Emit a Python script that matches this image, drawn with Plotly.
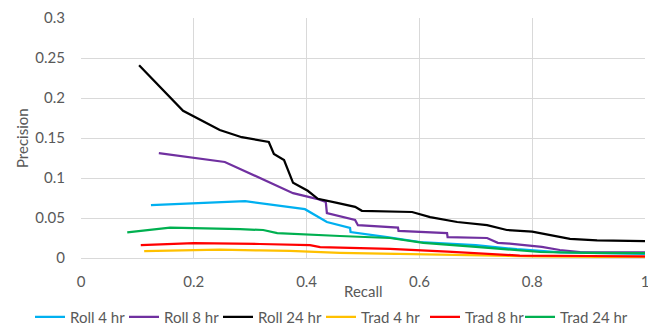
import plotly.graph_objects as go

roll4_x = [0.124, 0.291, 0.397, 0.436, 0.477, 0.478, 0.543, 0.601, 0.70, 0.773, 0.85, 0.92, 1.0]
roll4_y = [0.066, 0.071, 0.061, 0.045, 0.0375, 0.0325, 0.026, 0.020, 0.016, 0.011, 0.007, 0.006, 0.005]

roll8_x = [0.138, 0.255, 0.376, 0.418, 0.434, 0.436, 0.486, 0.491, 0.562, 0.563, 0.649, 0.650, 0.72, 0.739, 0.76, 0.817, 0.849, 0.885, 1.0]
roll8_y = [0.131, 0.120, 0.081, 0.074, 0.070, 0.056, 0.0475, 0.041, 0.038, 0.034, 0.031, 0.026, 0.025, 0.019, 0.018, 0.014, 0.010, 0.0075, 0.007]

roll24_x = [0.103, 0.181, 0.246, 0.285, 0.333, 0.342, 0.360, 0.376, 0.402, 0.420, 0.454, 0.486, 0.498, 0.548, 0.587, 0.619, 0.667, 0.720, 0.755, 0.800, 0.867, 0.915, 1.0]
roll24_y = [0.241, 0.184, 0.160, 0.151, 0.145, 0.130, 0.1225, 0.094, 0.084, 0.074, 0.069, 0.064, 0.059, 0.058, 0.0575, 0.051, 0.045, 0.041, 0.035, 0.033, 0.024, 0.022, 0.021]

trad4_x = [0.112, 0.200, 0.246, 0.317, 0.370, 0.459, 0.548, 0.65, 0.80, 1.0]
trad4_y = [0.0085, 0.010, 0.0105, 0.0095, 0.009, 0.0065, 0.0055, 0.004, 0.002, 0.001]

trad8_x = [0.106, 0.200, 0.317, 0.406, 0.424, 0.548, 0.65, 0.778, 0.90, 1.0]
trad8_y = [0.016, 0.0185, 0.0175, 0.016, 0.0135, 0.0115, 0.008, 0.003, 0.0025, 0.002]

trad24_x = [0.082, 0.158, 0.282, 0.323, 0.348, 0.400, 0.459, 0.548, 0.607, 0.700, 0.773, 0.814, 0.90, 1.0]
trad24_y = [0.032, 0.038, 0.036, 0.035, 0.031, 0.029, 0.0275, 0.025, 0.019, 0.014, 0.010, 0.0075, 0.0065, 0.006]

series = [
    ("Roll 4 hr", roll4_x, roll4_y, "#00b0f0"),
    ("Roll 8 hr", roll8_x, roll8_y, "#7030a0"),
    ("Roll 24 hr", roll24_x, roll24_y, "#000000"),
    ("Trad 4 hr", trad4_x, trad4_y, "#ffc000"),
    ("Trad 8 hr", trad8_x, trad8_y, "#ff0000"),
    ("Trad 24 hr", trad24_x, trad24_y, "#00b050"),
]

x_ticks = [0, 0.2, 0.4, 0.6, 0.8, 1]
x_tick_labels = ["0", "0.2", "0.4", "0.6", "0.8", "1"]
y_ticks = [0, 0.05, 0.1, 0.15, 0.2, 0.25, 0.3]
y_tick_labels = ["0", "0.05", "0.1", "0.15", "0.2", "0.25", "0.3"]
x_title = "Recall"
y_title = "Precision"

# legend entry left edges (pixels) — layout only
legend_left_px = [30, 124, 218, 321, 425, 520]

W, H = 648, 328
ML, MR, MT, MB = 81, 3, 18, 70
PW, PH = W - ML - MR, H - MT - MB

fig = go.Figure()
legend_layouts = {}
for i, (name, xs, ys, col) in enumerate(series):
    lname = "legend" if i == 0 else f"legend{i + 1}"
    fig.add_trace(go.Scatter(x=xs, y=ys, mode="lines", name=name, legend=lname,
                             line=dict(color=col, width=2.25)))
    legend_layouts[lname] = dict(
        orientation="h", xref="paper", yref="paper",
        x=(legend_left_px[i] - ML) / PW, xanchor="left",
        y=(H - MB - 317) / PH, yanchor="middle",
        font=dict(size=15, color="#595959"),
        itemwidth=30, bgcolor="rgba(0,0,0,0)")

font_family = "Lato, 'Open Sans', sans-serif"
fig.update_layout(
    width=W, height=H,
    margin=dict(l=ML, r=MR, t=MT, b=MB, autoexpand=False),
    paper_bgcolor="white", plot_bgcolor="white",
    font=dict(family=font_family, size=15, color="#595959"),
    showlegend=True,
    xaxis=dict(range=[0, 1], tickvals=x_ticks, ticktext=x_tick_labels,
               showgrid=True, gridcolor="#d9d9d9", gridwidth=1,
               zeroline=False, showline=True, linecolor="#d9d9d9",
               ticks="", ticklabelstandoff=10, automargin=False,
               ticklabeloverflow="allow"),
    yaxis=dict(range=[0, 0.3], tickvals=y_ticks, ticktext=y_tick_labels,
               showgrid=True, gridcolor="#d9d9d9", gridwidth=1,
               zeroline=False, showline=False, ticks="", ticklabelstandoff=15,
               automargin=False),
    annotations=[
        dict(text=x_title, xref="paper", yref="paper", x=0.5, y=-0.1375,
             xanchor="center", yanchor="middle", showarrow=False,
             font=dict(size=15, color="#595959")),
        dict(text=y_title, xref="paper", yref="paper", x=-0.1046, y=0.5,
             xanchor="center", yanchor="middle", showarrow=False, textangle=-90,
             font=dict(size=15, color="#595959")),
    ],
)
fig.update_layout(**legend_layouts)
fig.write_html("out.html", config={"displayModeBar": False},
               post_script="document.body.style.margin='0';document.body.style.overflow='hidden';")
